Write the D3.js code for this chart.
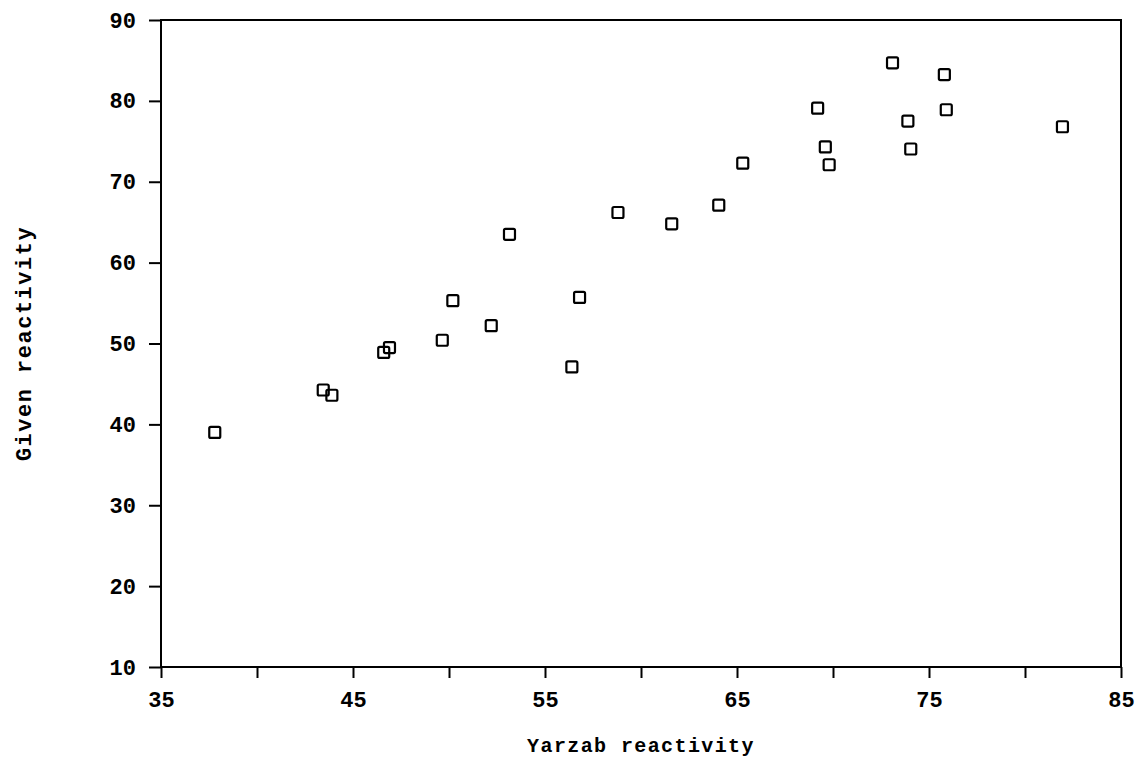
<!DOCTYPE html>
<html>
<head>
<meta charset="utf-8">
<script src="https://cdn.jsdelivr.net/npm/d3@7"></script>
<style>
  body { margin: 0; background: #fff; }
  svg text { font-family: "Liberation Mono", "DejaVu Sans Mono", monospace; font-weight: bold; fill: #000; }
</style>
</head>
<body>
<div class="scatter_wrapper"></div>
<script>

// data
const yarzab = [37.8, 43.45, 43.9, 46.6, 46.9, 49.65, 50.2, 52.2, 53.15, 56.4, 56.8, 58.8,
                61.6, 64.05, 65.3, 69.2, 69.6, 69.8, 73.1, 73.9, 74.05, 75.8, 75.9, 81.95]
const given  = [39.0, 44.25, 43.6, 48.9, 49.5, 50.4, 55.3, 52.2, 63.5, 47.1, 55.7, 66.2,
                64.8, 67.1, 72.3, 79.1, 74.3, 72.1, 84.7, 77.5, 74.05, 83.25, 78.9, 76.8]

const xTicks = [35, 40, 45, 50, 55, 60, 65, 70, 75, 80, 85]
const xTickLabels = ["35", "", "45", "", "55", "", "65", "", "75", "", "85"]
const yTicks = [10, 20, 30, 40, 50, 60, 70, 80, 90]

const xTitle = "Yarzab reactivity"
const yTitle = "Given reactivity"

function drawScatter() {

  const dataset = yarzab.map((x, i) => ({x: x, y: given[i]}))

  let dimensions = {
    width: 1143,
    height: 762,
    margin: {top: 20, right: 22, bottom: 95, left: 161},
  }
  dimensions.boundedWidth = dimensions.width - dimensions.margin.left - dimensions.margin.right
  dimensions.boundedHeight = dimensions.height - dimensions.margin.top - dimensions.margin.bottom

  const wrapper = d3.select(".scatter_wrapper")
    .append("svg")
      .attr("width", dimensions.width)
      .attr("height", dimensions.height)

  const bounds = wrapper.append("g")
    .attr("transform", `translate(${dimensions.margin.left},${dimensions.margin.top})`)

  const xScale = d3.scaleLinear()
    .domain([35, 85])
    .range([0, dimensions.boundedWidth])

  const yScale = d3.scaleLinear()
    .domain([10, 90])
    .range([dimensions.boundedHeight, 0])

  // x axis
  const xAxis = d3.axisBottom(xScale)
    .tickValues(xTicks)
    .tickFormat((d, i) => xTickLabels[i])
    .tickSizeInner(11)
    .tickSizeOuter(0)
    .tickPadding(13)

  const xAxisG = bounds.append("g")
    .attr("class", "xAxis")
    .attr("transform", `translate(0,${dimensions.boundedHeight})`)
    .call(xAxis)

  // y axis
  const yAxis = d3.axisLeft(yScale)
    .tickValues(yTicks)
    .tickSizeInner(12)
    .tickSizeOuter(0)
    .tickPadding(13)

  const yAxisG = bounds.append("g")
    .attr("class", "yAxis")
    .call(yAxis)

  xAxisG.selectAll("text").style("font-size", "22px")
  yAxisG.selectAll("text").style("font-size", "22px")
  bounds.selectAll(".domain").remove()
  bounds.selectAll(".tick line").attr("stroke", "#000").attr("stroke-width", 2)

  // frame round the plot
  bounds.append("rect")
    .attr("x", 0)
    .attr("y", 0)
    .attr("width", dimensions.boundedWidth)
    .attr("height", dimensions.boundedHeight)
    .attr("fill", "none")
    .attr("stroke", "#000")
    .attr("stroke-width", 2)

  // points
  const size = 11
  bounds.selectAll(".pt")
    .data(dataset)
    .enter()
    .append("rect")
      .attr("class", "pt")
      .attr("x", d => xScale(d.x) - size / 2)
      .attr("y", d => yScale(d.y) - size / 2)
      .attr("width", size)
      .attr("height", size)
      .attr("rx", 1.5)
      .attr("fill", "none")
      .attr("stroke", "#000")
      .attr("stroke-width", 2.2)

  // titles
  wrapper.append("text")
    .attr("x", dimensions.margin.left + dimensions.boundedWidth / 2)
    .attr("y", 752)
    .attr("text-anchor", "middle")
    .style("font-size", "20px")
    .attr("letter-spacing", "1.4px")
    .text(xTitle)

  wrapper.append("text")
    .attr("transform", `translate(31,${dimensions.margin.top + dimensions.boundedHeight / 2}) rotate(-90)`)
    .attr("text-anchor", "middle")
    .style("font-size", "22px")
    .attr("letter-spacing", "1.5px")
    .text(yTitle)
}

drawScatter()
</script>
</body>
</html>
